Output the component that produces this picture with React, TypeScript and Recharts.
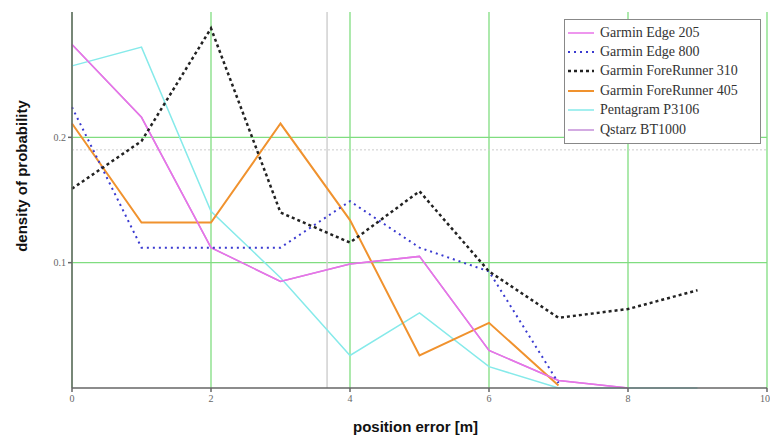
import React from 'react'
import {CartesianGrid, Line, LineChart, ReferenceLine, XAxis, YAxis} from 'recharts'

// position error [m]
const positions = [0, 1, 2, 3, 4, 5, 6, 7, 8, 9]

const edge205 = [0.274, 0.216, 0.112, 0.085, 0.099, 0.105, 0.03, 0.006, 0]
const edge800 = [0.224, 0.112, 0.112, 0.112, 0.149, 0.112, 0.093, 0.004]
const foreRunner310 = [0.159, 0.197, 0.287, 0.14, 0.116, 0.157, 0.093, 0.056, 0.063, 0.078]
const foreRunner405 = [0.211, 0.132, 0.132, 0.211, 0.134, 0.026, 0.052, 0.002]
const pentagram = [0.257, 0.272, 0.141, 0.088, 0.026, 0.06, 0.017, 0, 0, 0]
const qstarz = [0.274, 0.216, 0.112, 0.085, 0.099, 0.105, 0.03, 0.006, 0]

const xTicks = [0, 2, 4, 6, 8, 10]
const yTicks = [0.1, 0.2]

const data = positions.map((p, i) => ({
  p,
  edge205: edge205[i],
  edge800: edge800[i],
  fr310: foreRunner310[i],
  fr405: foreRunner405[i],
  pentagram: pentagram[i],
  qstarz: qstarz[i],
}))

const series = [
  {key: 'edge205', name: 'Garmin Edge 205', color: '#e873e8', width: 1.5, dash: undefined},
  {key: 'edge800', name: 'Garmin Edge 800', color: '#3a3ad0', width: 2, dash: '2 4'},
  {key: 'fr310', name: 'Garmin ForeRunner 310', color: '#222222', width: 2.5, dash: '3 3'},
  {key: 'fr405', name: 'Garmin ForeRunner 405', color: '#f0922e', width: 2, dash: undefined},
  {key: 'pentagram', name: 'Pentagram P3106', color: '#86eaea', width: 1.5, dash: undefined},
  {key: 'qstarz', name: 'Qstarz BT1000', color: '#c48fd8', width: 1.5, dash: undefined},
]

// drawing order: qstarz under edge 205
const drawOrder = ['qstarz', 'pentagram', 'fr405', 'edge205', 'edge800', 'fr310']

function LegendBox() {
  return (
    <div style={{
      position: 'absolute', left: 564, top: 19, width: 195, padding: '3px 0 4px 0',
      border: '1.5px solid #888', background: '#fff',
      fontFamily: '"Liberation Serif", "Times New Roman", serif', fontSize: 14, color: '#333',
    }}>
      {series.map(s => (
        <div key={s.key} style={{display: 'flex', alignItems: 'center', height: 19.4}}>
          <svg width={30} height={10} style={{marginLeft: 2}}>
            <line x1={1} y1={5} x2={27} y2={5} stroke={s.color} strokeWidth={s.width} strokeDasharray={s.dash} />
          </svg>
          <span style={{marginLeft: 3}}>{s.name}</span>
        </div>
      ))}
    </div>
  )
}

export default function App() {
  const tick = {fontFamily: '"Liberation Serif", serif', fontSize: 10, fill: '#666'}
  return (
    <div style={{position: 'absolute', left: 0, top: 0, width: 770, height: 439, background: '#fff'}}>
      <LineChart width={770} height={439} data={data} margin={{top: 12, right: 3, bottom: 0, left: 0}}>
        <CartesianGrid stroke="#80dd80" strokeWidth={1.3} horizontalValues={yTicks} />
        <XAxis
          dataKey="p" type="number" domain={[0, 10]} ticks={xTicks} height={51}
          tick={tick} tickSize={4} tickMargin={3} stroke="#666" strokeWidth={1.5}
          label={{value: 'position error [m]', position: 'insideBottom', offset: 7, dx: -4,
            style: {fontFamily: '"Liberation Sans", Arial, sans-serif', fontWeight: 'bold', fontSize: 15, fill: '#111'}}}
        />
        <YAxis
          type="number" domain={[0, 0.3]} ticks={yTicks} width={72}
          tick={tick} tickSize={4} tickMargin={2} stroke="#666" strokeWidth={1.5}
          label={{value: 'density of probability', angle: -90, position: 'center', dx: -14, dy: -24,
            style: {fontFamily: '"Liberation Sans", Arial, sans-serif', fontWeight: 'bold', fontSize: 15, fill: '#111'}}}
        />
        <ReferenceLine x={3.67} stroke="#d0d0d0" strokeWidth={1.5} />
        <ReferenceLine y={0.19} stroke="#cccccc" strokeDasharray="2 2" />
        {drawOrder.map(k => {
          const s = series.find(x => x.key === k)!
          return (
            <Line key={s.key} type="linear" dataKey={s.key} name={s.name} stroke={s.color}
              strokeWidth={s.width} strokeDasharray={s.dash} dot={false} isAnimationActive={false} />
          )
        })}
      </LineChart>
      <LegendBox />
    </div>
  )
}
